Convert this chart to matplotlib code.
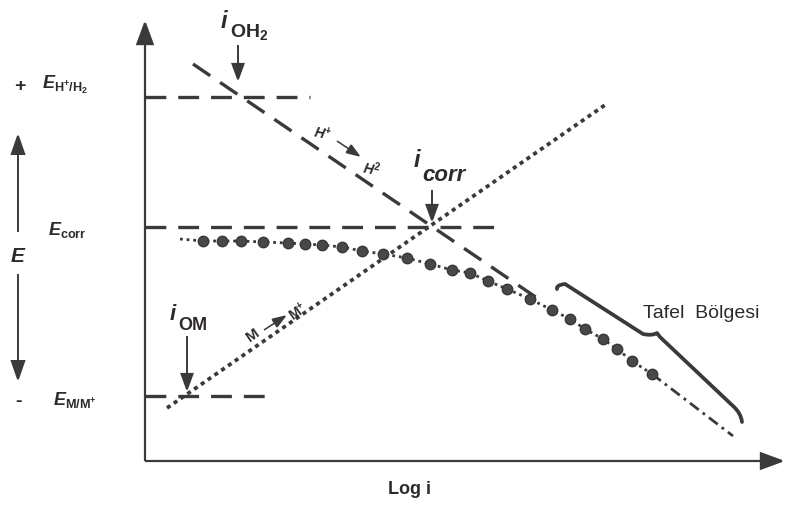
import matplotlib
matplotlib.use("Agg")
import matplotlib.pyplot as plt
from matplotlib.patches import FancyArrowPatch, PathPatch
from matplotlib.path import Path

plt.rcParams["font.family"] = ["Liberation Sans", "DejaVu Sans"]
plt.rcParams["mathtext.fontset"] = "custom"
plt.rcParams["mathtext.rm"] = "Liberation Sans:bold"
plt.rcParams["mathtext.it"] = "Liberation Sans:italic:bold"
plt.rcParams["mathtext.bf"] = "Liberation Sans:bold"

INK = "#2e2a2c"
LINE = "#3c393b"

# ---- diagram values (x: log i units, y: potential units) ----
E_H = 36.4          # E H+/H2 equilibrium level
E_CORR = 23.4       # corrosion potential
E_M = 6.5           # E M/M+ equilibrium level
level_ends = [16.5, 35.5, 12.0]   # log i extent of each dashed level line

cathodic_logi = [4.8, 39.5]       # H+ -> H2 Tafel line
cathodic_E = [39.7, 16.1]
anodic_logi = [2.2, 46.0]         # M -> M+ Tafel line
anodic_E = [5.3, 35.6]

# measured polarisation curve
curve_logi = [5.8, 7.7, 9.6, 11.8, 14.3, 16.0, 17.7, 19.7, 21.7, 23.8, 26.2,
              28.5, 30.7, 32.5, 34.3, 36.2, 38.5, 40.7, 42.5, 44.0, 45.8,
              47.2, 48.7, 50.7]
curve_E = [22.0, 22.0, 22.0, 21.9, 21.8, 21.7, 21.6, 21.4, 21.0, 20.7, 20.3,
           19.7, 19.1, 18.8, 18.0, 17.2, 16.2, 15.1, 14.2, 13.2, 12.2,
           11.2, 10.0, 8.7]
curve_start = (3.5, 22.2)
curve_tail = (58.8, 2.5)

# brace marking the Tafel region
brace_logi = [41.2, 41.1, 42.0, 49.8, 50.7, 51.2, 51.5, 58.8, 59.6, 59.7]
brace_E = [17.2, 17.6, 17.7, 12.7, 12.5, 12.8, 12.4, 5.5, 4.8, 3.9]

fig = plt.figure(figsize=(7.87, 5.10), dpi=100)
ax = fig.add_axes([0, 0, 1, 1])
ax.set_xlim(-14.5, 64.2)
ax.set_ylim(-4.8, 46.2)
ax.axis("off")

LW = 2.4
dash = (0, (15.0 / LW, 8.6 / LW))


def arrow(p0, p1, style="-|>,head_length=1.5,head_width=0.55", lw=1.6, ms=10):
    ax.add_patch(FancyArrowPatch(p0, p1, arrowstyle=style, mutation_scale=ms,
                                 color=LINE, lw=lw, shrinkA=0, shrinkB=0,
                                 joinstyle="miter", capstyle="butt"))


# coordinate axes
arrow((0, 0), (0, 44.1))
arrow((0, 0), (64.0, 0))

# equilibrium / corrosion potential levels
for level, end in zip([E_H, E_CORR, E_M], level_ends):
    ax.plot([0, end], [level, level], color=LINE, lw=LW, linestyle=dash,
            solid_capstyle="butt", dash_capstyle="butt")

# Tafel lines
ax.plot(cathodic_logi, cathodic_E, color=LINE, lw=LW, linestyle=dash,
        dash_capstyle="butt")
ax.plot(anodic_logi, anodic_E, color=LINE, lw=2.7, linestyle=(0, (1.1, 1.1)),
        dash_capstyle="butt")

# polarisation curve
ax.plot([curve_start[0]] + curve_logi, [curve_start[1]] + curve_E,
        color=LINE, lw=2.0, linestyle=(0, (1, 1.4)))
ax.plot([curve_logi[-1], curve_tail[0]], [curve_E[-1], curve_tail[1]],
        color=LINE, lw=2.0, linestyle=(0, (4, 1.8, 1, 1.8)))
ax.plot(curve_logi, curve_E, linestyle="none", marker="o", ms=7.5,
        color="#4a4749", mec="#3a3739")

# brace
verts = list(zip(brace_logi, brace_E))
codes = [Path.MOVETO, Path.CURVE3, Path.CURVE3, Path.LINETO, Path.CURVE3,
         Path.CURVE3, Path.LINETO, Path.LINETO, Path.CURVE3, Path.CURVE3]
ax.add_patch(PathPatch(Path(verts, codes), fill=False, color=LINE, lw=2.7,
                       capstyle="round", joinstyle="round"))
ax.text(49.8, 14.9, "Tafel  Bölgesi", fontsize=14, color=INK,
        ha="left", va="center")

# left side potential scale
ax.text(-12.5, 37.6, "+", fontsize=14, fontweight="bold", color=INK,
        ha="center", va="center")
ax.text(-12.7, 6.0, "-", fontsize=14, fontweight="bold", color=INK,
        ha="center", va="center")
arrow((-12.7, 22.9), (-12.7, 32.8), style="-|>,head_length=1.3,head_width=0.45",
      lw=1.4)
arrow((-12.7, 18.7), (-12.7, 7.9), style="-|>,head_length=1.3,head_width=0.45",
      lw=1.4)
ax.text(-12.7, 20.6, "$E$", fontsize=15, color=INK, ha="center", va="center")

ax.text(-10.3, 37.3, r"$E_{\mathrm{H^{+}/H_2}}$", fontsize=13, color=INK,
        ha="left", va="baseline")
ax.text(-9.7, 23.2, r"$E_{\mathrm{corr}}$", fontsize=13, color=INK,
        ha="left", va="center")
ax.text(-9.2, 6.2, r"$E_{\mathrm{M/M^{+}}}$", fontsize=13, color=INK,
        ha="left", va="center")

# current density markers
ax.text(7.6, 43.4, "i", fontsize=17, style="italic", fontweight="bold",
        color=INK, ha="left", va="baseline")
ax.text(8.5, 42.5, r"$\mathrm{OH_2}$", fontsize=14, color=INK, ha="left",
        va="baseline")
arrow((9.3, 41.6), (9.3, 37.9), style="-|>,head_length=1.1,head_width=0.4",
      lw=1.4)

ax.text(26.9, 29.5, "i", fontsize=17, style="italic", fontweight="bold",
        color=INK, ha="left", va="baseline")
ax.text(27.7, 28.1, "corr", fontsize=16, style="italic", fontweight="bold",
        color=INK, ha="left", va="baseline")
arrow((28.7, 27.1), (28.7, 23.8), style="-|>,head_length=1.1,head_width=0.4",
      lw=1.4)

ax.text(2.5, 14.2, "i", fontsize=16, style="italic", fontweight="bold",
        color=INK, ha="left", va="baseline")
ax.text(3.3, 13.2, "OM", fontsize=13, fontweight="bold", color=INK,
        ha="left", va="baseline")
arrow((4.2, 12.5), (4.2, 6.9), style="-|>,head_length=1.1,head_width=0.4",
      lw=1.4)

# reaction direction labels
ax.text(17.8, 32.8, r"$H^{+}$", fontsize=10, color=INK, ha="center",
        va="center", rotation=-12)
arrow((19.2, 32.0), (21.6, 30.4), style="-|>,head_length=0.9,head_width=0.32",
      lw=1.1)
ax.text(22.7, 29.3, r"$H^{2}$", fontsize=10, color=INK, ha="center",
        va="center", rotation=-12)

ax.text(10.8, 12.7, "M", fontsize=11, fontweight="bold", color=INK,
        ha="center", va="center", rotation=35)
arrow((11.9, 13.1), (14.2, 14.6), style="-|>,head_length=0.9,head_width=0.32",
      lw=1.1)
ax.text(15.3, 15.0, r"$\mathrm{M^{+}}$", fontsize=10, color=INK, ha="center",
        va="center", rotation=35)

ax.text(26.5, -2.8, "Log i", fontsize=13, fontweight="bold", color=INK,
        ha="center", va="center")

fig.savefig("out.png", dpi=100)
